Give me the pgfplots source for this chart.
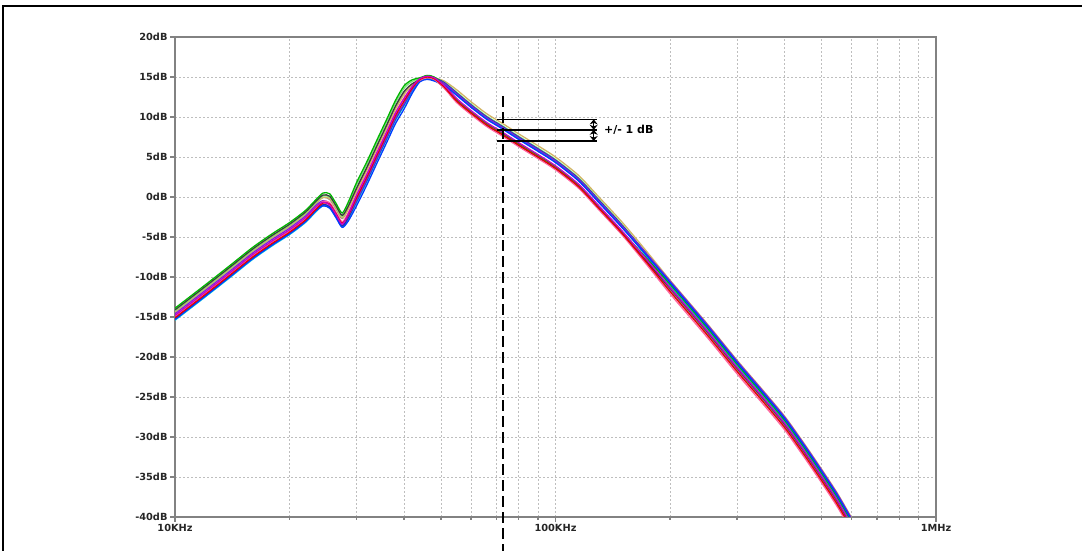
\documentclass[border=0pt]{standalone}
\usepackage{pgfplots}
\pgfplotsset{compat=1.18}
\usepackage{pgfplotstable}
\usepackage{fontspec}
\setmainfont{DejaVu Sans}
\usetikzlibrary{arrows.meta}

\definecolor{c1}{RGB}{0,180,0}
\definecolor{c2}{RGB}{230,0,0}
\definecolor{c3}{RGB}{0,60,255}
\definecolor{c4}{RGB}{200,0,200}
\definecolor{c5}{RGB}{0,190,220}
\definecolor{c6}{RGB}{210,180,100}
\definecolor{c7}{RGB}{60,60,60}
\definecolor{c8}{RGB}{255,100,160}
\definecolor{c9}{RGB}{120,40,220}
\definecolor{c10}{RGB}{120,230,120}
\definecolor{c11}{RGB}{40,40,170}
\definecolor{c12}{RGB}{140,140,140}
\definecolor{gridc}{RGB}{190,190,190}
\definecolor{axc}{RGB}{130,130,130}

% frequency in kHz, gain in dB (Monte Carlo runs)
\pgfplotstableread{
f c1 c2 c3 c4 c5 c6 c7 c8 c9 c10 c11 c12
10 -13.9 -15.1 -15.3 -14.8 -15.4 -14.4 -14.1 -14.9 -14.6 -14.2 -15.2 -14.3
12 -11.0 -12.2 -12.4 -11.9 -12.5 -11.5 -11.2 -12.0 -11.7 -11.3 -12.3 -11.4
14 -8.5 -9.7 -9.9 -9.4 -10.0 -9.0 -8.7 -9.5 -9.2 -8.8 -9.8 -8.9
16 -6.3 -7.5 -7.7 -7.2 -7.8 -6.8 -6.5 -7.3 -7.0 -6.6 -7.6 -6.7
18 -4.6 -5.8 -6.0 -5.5 -6.1 -5.1 -4.8 -5.6 -5.3 -4.9 -5.9 -5.0
20 -3.2 -4.4 -4.6 -4.1 -4.7 -3.7 -3.4 -4.2 -3.9 -3.5 -4.5 -3.6
22 -1.7 -2.9 -3.1 -2.6 -3.2 -2.2 -1.9 -2.7 -2.4 -2.0 -3.0 -2.1
23.5 -0.3 -1.5 -1.7 -1.2 -1.8 -0.8 -0.5 -1.3 -1.0 -0.6 -1.6 -0.7
24.5 0.5 -0.75 -1.1 -0.65 -1.1 -0.05 0.25 -0.55 -0.45 0.15 -0.95 -0.05
25.5 0.4 -0.9 -1.4 -1.0 -1.3 -0.2 0.1 -0.7 -0.8 0.0 -1.2 -0.3
26.5 -0.8 -2.1 -2.6 -2.2 -2.5 -1.4 -1.1 -1.9 -2.0 -1.2 -2.4 -1.5
27.5 -2.0 -3.3 -3.8 -3.4 -3.7 -2.6 -2.3 -3.1 -3.2 -2.4 -3.6 -2.7
28.5 -0.7 -2.3 -3.05 -2.2 -2.8 -1.55 -1.2 -2.0 -2.4 -1.05 -2.65 -1.5
30 1.8 -0.1 -1.1 0.2 -0.7 0.7 1.1 0.3 -0.4 1.5 -0.5 0.9
32 4.5 2.6 1.6 2.9 2.0 3.4 3.8 3.0 2.3 4.2 2.2 3.6
34 7.2 5.3 4.3 5.6 4.7 6.1 6.5 5.7 5.0 6.9 4.9 6.3
36 9.7 7.8 6.8 8.1 7.2 8.6 9.0 8.2 7.5 9.4 7.4 8.8
38 12.1 10.2 9.2 10.5 9.6 11.0 11.4 10.6 9.9 11.8 9.8 11.2
40 13.9 12.0 11.0 12.3 11.4 12.8 13.2 12.4 11.7 13.6 11.6 13.0
42 14.65 13.6 12.95 13.8 13.2 14.05 14.15 13.75 13.45 14.45 13.45 14.0
44 14.9 14.7 14.4 14.8 14.5 14.8 14.6 14.6 14.7 14.8 14.8 14.5
46 15.2 15.0 14.7 15.1 14.8 15.1 14.9 14.9 15.0 15.1 15.1 14.8
48 15.0 14.8 14.5 14.9 14.6 14.9 14.7 14.7 14.8 14.9 14.9 14.6
51 13.95 13.75 13.95 13.95 14.05 14.5 13.65 13.6 14.2 14.35 14.3 13.7
55 12.2 12.0 12.7 12.3 12.8 13.4 11.9 11.8 12.9 13.1 13.0 12.1
60 10.7 10.5 11.2 10.8 11.3 11.9 10.4 10.3 11.4 11.6 11.5 10.6
66 9.2 9.0 9.7 9.3 9.8 10.4 8.9 8.8 9.9 10.1 10.0 9.1
72 8.1 7.9 8.6 8.2 8.7 9.3 7.8 7.7 8.8 9.0 8.9 8.0
80 6.7 6.5 7.2 6.8 7.3 7.9 6.4 6.3 7.4 7.6 7.5 6.6
90 5.2 5.0 5.7 5.3 5.8 6.4 4.9 4.8 5.9 6.1 6.0 5.1
100 3.8 3.6 4.3 3.9 4.4 5.0 3.5 3.4 4.5 4.7 4.6 3.7
115 1.5 1.3 2.0 1.6 2.1 2.7 1.2 1.1 2.2 2.4 2.3 1.4
130 -1.2 -1.4 -0.7 -1.1 -0.6 0.0 -1.5 -1.6 -0.5 -0.3 -0.4 -1.3
150 -4.4 -4.6 -3.9 -4.3 -3.8 -3.2 -4.7 -4.8 -3.7 -3.5 -3.6 -4.5
175 -7.85 -8.4 -7.5 -8.0 -7.65 -7.0 -8.25 -8.65 -7.3 -7.35 -7.3 -8.25
200 -10.9 -11.8 -10.7 -11.3 -11.1 -10.4 -11.4 -12.1 -10.5 -10.8 -10.6 -11.6
250 -16.3 -17.2 -16.1 -16.7 -16.5 -15.8 -16.8 -17.5 -15.9 -16.2 -16.0 -17.0
300 -20.9 -21.8 -20.7 -21.3 -21.1 -20.4 -21.4 -22.1 -20.5 -20.8 -20.6 -21.6
350 -24.6 -25.5 -24.4 -25.0 -24.8 -24.1 -25.1 -25.8 -24.2 -24.5 -24.3 -25.3
400 -27.9 -28.8 -27.7 -28.3 -28.1 -27.4 -28.4 -29.1 -27.5 -27.8 -27.6 -28.6
450 -31.3 -32.2 -31.1 -31.7 -31.5 -30.8 -31.8 -32.5 -30.9 -31.2 -31.0 -32.0
500 -34.5 -35.4 -34.3 -34.9 -34.7 -34.0 -35.0 -35.7 -34.1 -34.4 -34.2 -35.2
550 -37.5 -38.4 -37.3 -37.9 -37.7 -37.0 -38.0 -38.7 -37.1 -37.4 -37.2 -38.2
600 -40.6 -41.5 -40.4 -41.0 -40.8 -40.1 -41.1 -41.8 -40.2 -40.5 -40.3 -41.3
}\mc

\begin{document}
\begin{tikzpicture}[x=1pt,y=1pt]
\useasboundingbox (0,0) rectangle (1082,551);
\draw[line width=2pt] (3,0) -- (3,545) -- (1082,545);
\begin{axis}[
  at={(175pt,34pt)}, anchor=south west,
  width=761pt, height=480pt, scale only axis,
  xmode=log, log basis x=10,
  xmin=10, xmax=1000, ymin=-40, ymax=20,
  xtick={10,100,1000}, xticklabels={10KHz,100KHz,1MHz},
  minor xtick={20,30,40,50,60,70,80,90,200,300,400,500,600,700,800,900},
  ytick={-40,-35,-30,-25,-20,-15,-10,-5,0,5,10,15,20},
  yticklabels={-40dB,-35dB,-30dB,-25dB,-20dB,-15dB,-10dB,-5dB,0dB,5dB,10dB,15dB,20dB},
  grid=both,
  major grid style={gridc, line width=0.9pt, dash pattern=on 1.5pt off 2.5pt},
  minor grid style={gridc, line width=0.9pt, dash pattern=on 1.5pt off 2.5pt},
  axis line style={axc, line width=1.3pt},
  every tick/.style={axc, line width=1.2pt},
  tick align=outside,
  major tick length=5pt, minor tick length=3pt,
  xtick pos=bottom, ytick pos=left,
  ticklabel style={font=\bfseries\fontsize{9.8}{11}\selectfont, text=black!85},
  yticklabel style={xshift=1pt},
  xticklabel style={yshift=1pt},
  clip mode=individual,
  every axis plot/.append style={line width=1.3pt, smooth, tension=0.45},
]
\addplot[c12] table[x=f,y=c12] {\mc};
\addplot[c6] table[x=f,y=c6] {\mc};
\addplot[c10] table[x=f,y=c10] {\mc};
\addplot[c5] table[x=f,y=c5] {\mc};
\addplot[c11] table[x=f,y=c11] {\mc};
\addplot[c9] table[x=f,y=c9] {\mc};
\addplot[c7] table[x=f,y=c7] {\mc};
\addplot[c1] table[x=f,y=c1] {\mc};
\addplot[c3] table[x=f,y=c3] {\mc};
\addplot[c8] table[x=f,y=c8] {\mc};
\addplot[c2] table[x=f,y=c2] {\mc};
\addplot[c4] table[x=f,y=c4] {\mc};

% annotation
\draw[black, line width=1.5pt] (axis cs:70.2,9.7) -- (axis cs:128.5,9.7);
\draw[black, line width=1.5pt] (axis cs:70.2,8.4) -- (axis cs:128.5,8.4);
\draw[black, line width=1.5pt] (axis cs:70.2,7.0) -- (axis cs:128.5,7.0);
\draw[black, line width=1.6pt, {Stealth[length=5pt,width=8pt]}-{Stealth[length=5pt,width=8pt]}] (axis cs:126,9.7) -- (axis cs:126,8.4);
\draw[black, line width=1.6pt, {Stealth[length=5pt,width=8pt]}-{Stealth[length=5pt,width=8pt]}] (axis cs:126,8.4) -- (axis cs:126,7.0);
\node[anchor=west, font=\bfseries\fontsize{11}{13}\selectfont, inner sep=0pt] at (axis cs:134,8.4) {+/- 1 dB};
\draw[black, line width=2.5pt, dash pattern=on 11pt off 5pt] (axis cs:72.8,12.6) -- (axis cs:72.8,-44.3);
\end{axis}
\end{tikzpicture}
\end{document}
